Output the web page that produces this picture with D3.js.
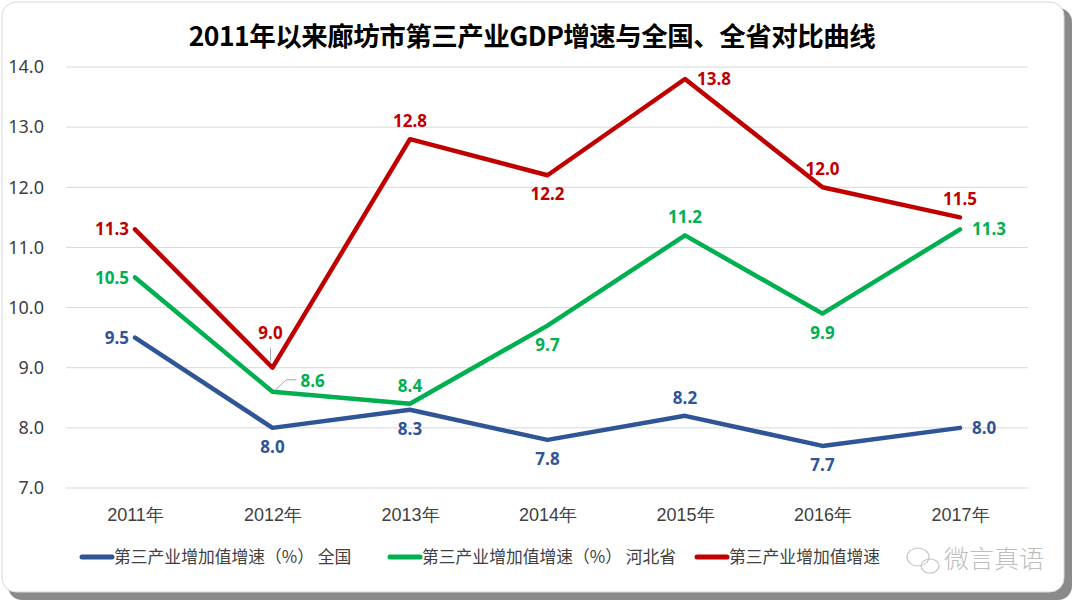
<!DOCTYPE html>
<html><head><meta charset="utf-8">
<script src="https://cdn.jsdelivr.net/npm/d3@7"></script>
<style>
body{margin:0;background:#fff;}
svg{display:block;font-family:"Noto Sans CJK SC","Noto Sans",sans-serif;}
</style></head>
<body><svg id="c" width="1080" height="608"></svg>
<script>
const years = ["2011年","2012年","2013年","2014年","2015年","2016年","2017年"];
const national = [9.5, 8.0, 8.3, 7.8, 8.2, 7.7, 8.0];
const hebei = [10.5, 8.6, 8.4, 9.7, 11.2, 9.9, 11.3];
const langfang = [11.3, 9.0, 12.8, 12.2, 13.8, 12.0, 11.5];
const yTicks = [7,8,9,10,11,12,13,14];
const seriesNames = ["第三产业增加值增速（%） 全国","第三产业增加值增速（%） 河北省","第三产业增加值增速"];
// label placement codes per point
const nationalPos = ["l","b","b","b","a","b","r"];
const hebeiPos = ["l","lead","a","b","a","b","r"];
const langfangPos = ["l","up","a","b","r","a","a"];

const svg = d3.select("#c");
svg.append("rect").attr("x",8).attr("y",8).attr("width",1064).attr("height",592).attr("rx",14).attr("fill","#8a8a8a");
svg.append("rect").attr("x",2).attr("y",2).attr("width",1062).attr("height",590).attr("rx",14).attr("fill","#fff").attr("stroke","#d9d9d9");

svg.append("text").attr("x",532).attr("y",46).attr("text-anchor","middle")
  .attr("font-size",26.5).attr("font-weight","bold").attr("fill","#000").attr("letter-spacing",-0.5)
  .text("2011年以来廊坊市第三产业GDP增速与全国、全省对比曲线");

const x = d3.scalePoint().domain(years).range([135,960]);
const y = d3.scaleLinear().domain([7,14]).range([488,67]);

svg.append("g").selectAll("line").data(yTicks).join("line")
  .attr("x1",66).attr("x2",1028).attr("y1",d=>y(d)).attr("y2",d=>y(d))
  .attr("stroke","#d9d9d9").attr("stroke-width",1);

const yAxis = svg.append("g").attr("transform","translate(66,0)")
  .call(d3.axisLeft(y).tickValues(yTicks).tickFormat(d3.format(".1f")).tickSize(0).tickPadding(22));
yAxis.select(".domain").remove();
yAxis.selectAll("text").attr("font-size",18).attr("fill","#404040").attr("font-family","'Noto Sans','Open Sans',sans-serif");

const xAxis = svg.append("g").attr("transform","translate(0,488)")
  .call(d3.axisBottom(x).tickSize(0).tickPadding(20));
xAxis.select(".domain").remove();
xAxis.selectAll("text").attr("font-size",18).attr("fill","#404040");

const series = [
  {vals:national,pos:nationalPos,color:"#2F5597"},
  {vals:hebei,pos:hebeiPos,color:"#00B050"},
  {vals:langfang,pos:langfangPos,color:"#C00000"}
];
const line = d3.line().x((d,i)=>x(years[i])).y(d=>y(d));
series.forEach(s=>{
  svg.append("path").datum(s.vals).attr("d",line).attr("fill","none")
    .attr("stroke",s.color).attr("stroke-width",4.5).attr("stroke-linejoin","round").attr("stroke-linecap","round");
});
series.forEach(s=>{
  s.vals.forEach((v,i)=>{
    const px = x(years[i]), py = y(v);
    let tx=px, ty=py, anchor="middle";
    const p = s.pos[i];
    if(p==="l"){tx=px-6;ty=py+6;anchor="end";}
    else if(p==="r"){tx=px+12;ty=py+6;anchor="start";}
    else if(p==="a"){ty=py-12;}
    else if(p==="b"){ty=py+25;}
    else if(p==="lead"){
      svg.append("path").attr("d",`M${px+3},${py-2} L${px+14},${py-12} L${px+24},${py-12}`)
        .attr("fill","none").attr("stroke","#a6a6a6").attr("stroke-width",1);
      tx=px+28;ty=py-5;anchor="start";
    }
    else if(p==="up"){
      svg.append("line").attr("x1",px-2).attr("x2",px-2).attr("y1",py-6).attr("y2",py-20)
        .attr("stroke","#a6a6a6").attr("stroke-width",1);
      tx=px-2;ty=py-29;
    }
    svg.append("text").attr("x",tx).attr("y",ty).attr("text-anchor",anchor)
      .attr("font-size",17).attr("font-weight","bold").attr("fill",s.color)
      .attr("font-family","'Open Sans','Noto Sans',sans-serif").text(d3.format(".1f")(v));
  });
});

// legend
const legX = [82,390,697];
series.forEach((s,i)=>{
  const g = svg.append("g").attr("transform",`translate(${legX[i]},557)`);
  g.append("line").attr("x1",0).attr("x2",30).attr("y1",0).attr("y2",0)
    .attr("stroke",s.color).attr("stroke-width",5).attr("stroke-linecap","round");
  g.append("text").attr("x",32).attr("y",6).attr("font-size",16.8).attr("fill","#404040").text(seriesNames[i]);
});
// watermark
const wm = svg.append("g").attr("opacity",0.55);
wm.append("ellipse").attr("cx",918).attr("cy",557).attr("rx",11).attr("ry",9).attr("fill","none").attr("stroke","#9a9a9a").attr("stroke-width",1.2);
wm.append("ellipse").attr("cx",930).attr("cy",566).attr("rx",9).attr("ry",7).attr("fill","none").attr("stroke","#9a9a9a").attr("stroke-width",1.2);
wm.append("text").attr("x",944).attr("y",568).attr("font-size",25).attr("fill","#8a8a8a").attr("font-weight",300).text("微言真语");
</script></body></html>
